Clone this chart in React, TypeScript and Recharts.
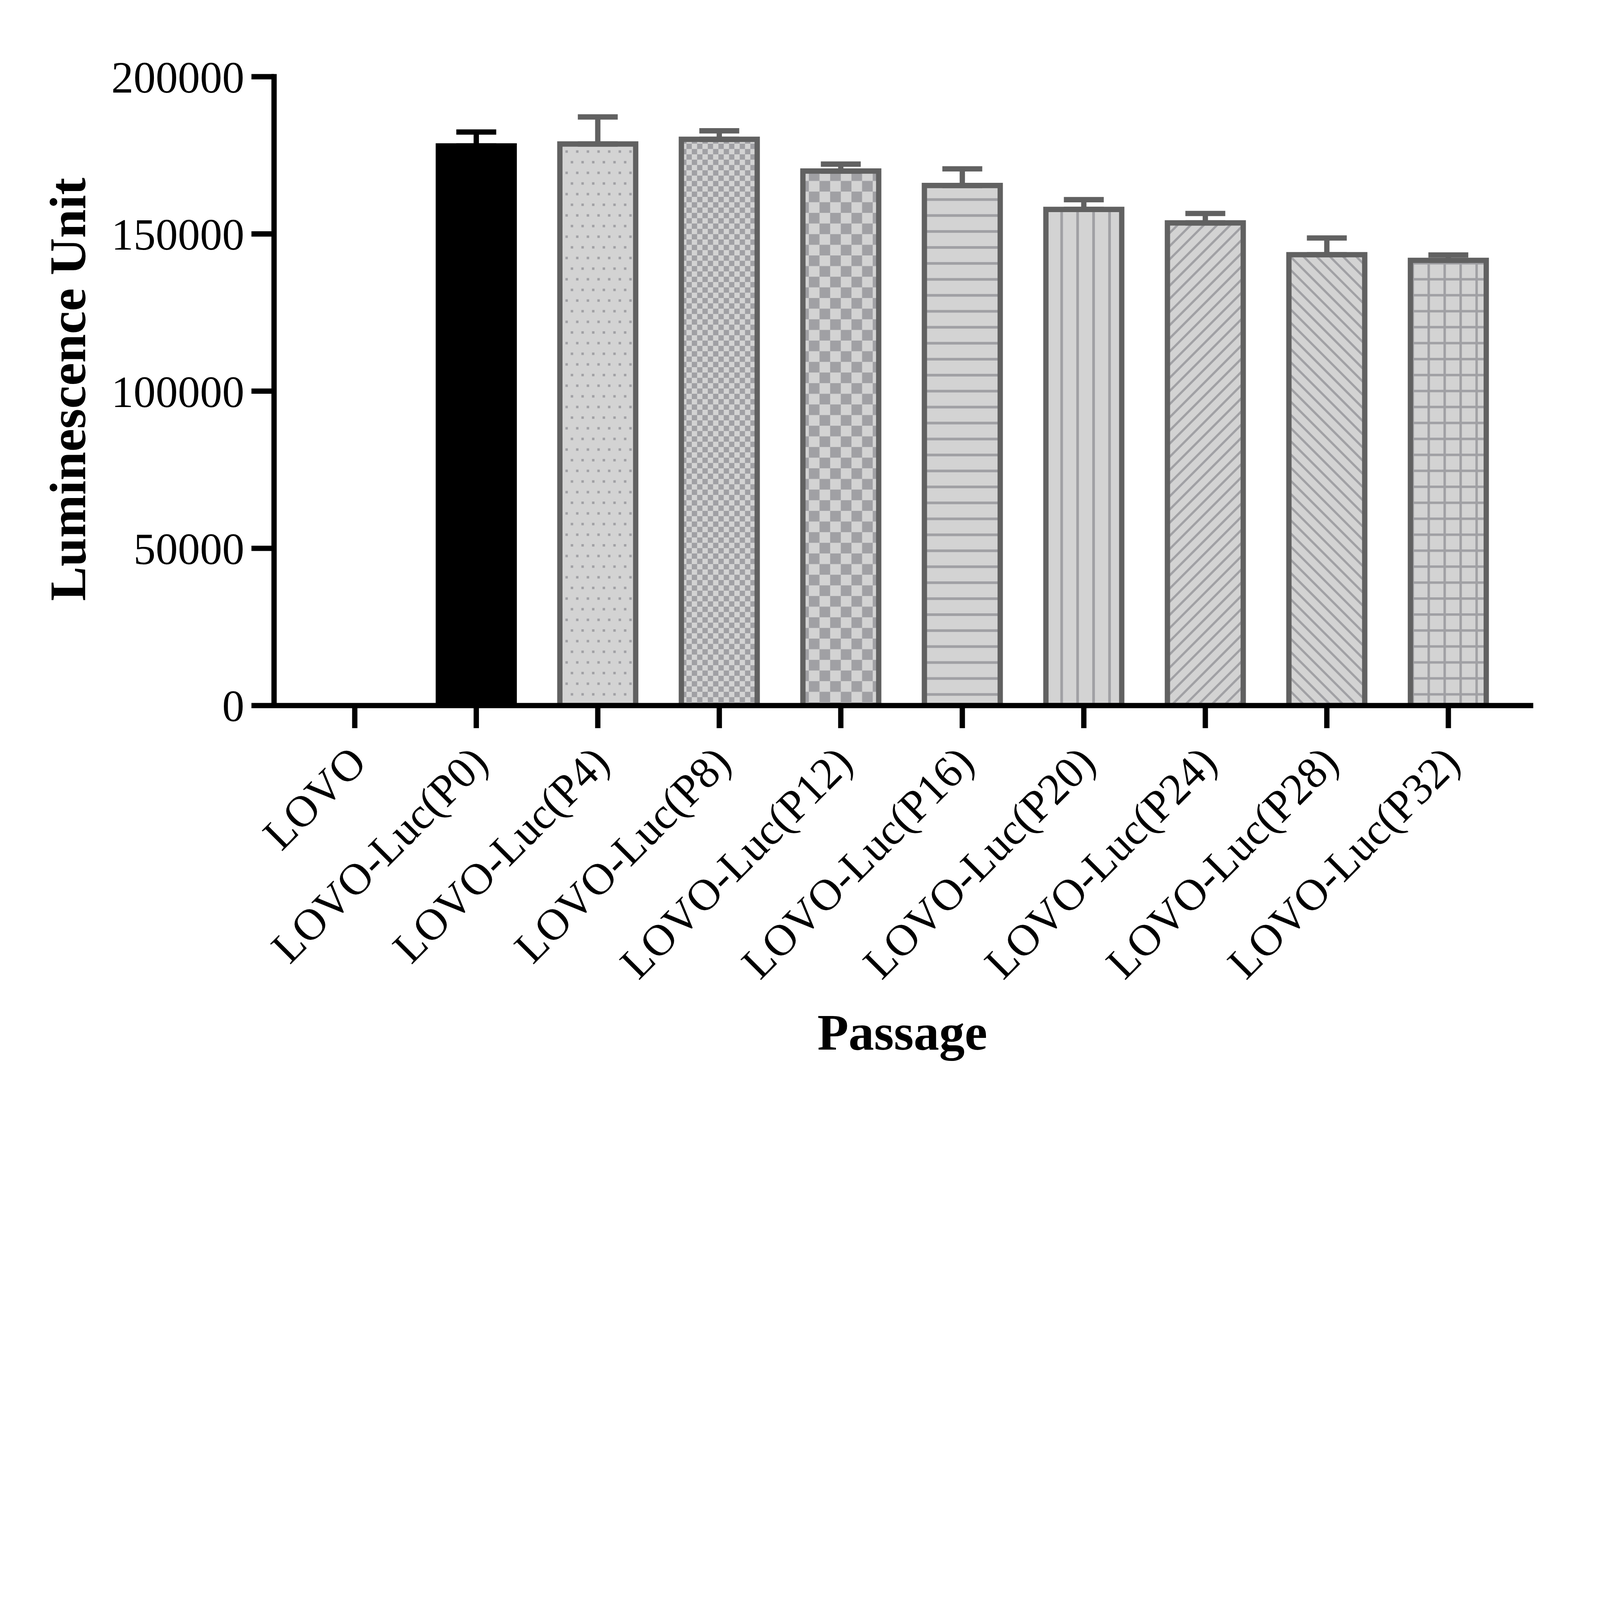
import React from 'react';
import { BarChart, Bar, XAxis, YAxis, Cell, ErrorBar, Label } from 'recharts';

const categories = [
  'LOVO',
  'LOVO-Luc(P0)',
  'LOVO-Luc(P4)',
  'LOVO-Luc(P8)',
  'LOVO-Luc(P12)',
  'LOVO-Luc(P16)',
  'LOVO-Luc(P20)',
  'LOVO-Luc(P24)',
  'LOVO-Luc(P28)',
  'LOVO-Luc(P32)',
];
const meanValues = [0, 178000, 178600, 180100, 170000, 165400, 157800, 153500, 143400, 141600];
const sdValues = [null, 4400, 8600, 2700, 2200, 5300, 3100, 3000, 5300, 1700];
const yTicks = [0, 50000, 100000, 150000, 200000];

const W = 7216;
const H = 4952;
const FONT = '"Liberation Serif", "Times New Roman", serif';
const GRAY = '#616161';
const LIGHT = '#d3d3d3';
const MID = '#a0a0a4';

const barFills = [
  'none',
  '#000000',
  'url(#pDots)',
  'url(#pCheckSmall)',
  'url(#pCheckBig)',
  'url(#pHoriz)',
  'url(#pVert)',
  'url(#pDiagUp)',
  'url(#pDiagDown)',
  'url(#pGrid)',
];
const barStrokes = ['none', '#000000', GRAY, GRAY, GRAY, GRAY, GRAY, GRAY, GRAY, GRAY];

const data = categories.map((name, i) => ({
  name,
  value: meanValues[i],
  errBlack: i === 1 && sdValues[i] != null ? [0, sdValues[i]] : null,
  errGray: i > 1 && sdValues[i] != null ? [0, sdValues[i]] : null,
}));

const XTick = (props: any) => {
  const { x, y, payload } = props;
  return (
    <text
      transform={`translate(${x + 62},${y + 166}) rotate(-45)`}
      textAnchor="end"
      fontFamily={FONT}
      fontSize={200}
      fill="#000"
    >
      {payload.value}
    </text>
  );
};

function getScale() {
  if (typeof window === 'undefined') return 1;
  const vw = window.innerWidth || W;
  const vh = window.innerHeight || H;
  return Math.min(1, vw / W, vh / H);
}

export default function App() {
  const s = getScale();
  if (typeof document !== 'undefined') {
    document.body.style.overflow = 'hidden';
    document.body.style.margin = '0';
  }
  return (
    <div
      style={{
        position: 'absolute',
        left: 0,
        top: 0,
        width: W,
        height: H,
        transform: `scale(${s})`,
        transformOrigin: '0 0',
        background: '#fff',
      }}
    >
      <BarChart
        width={W}
        height={H}
        data={data}
        margin={{ top: 346, right: 313, bottom: 0, left: 0 }}
        barSize={342}
      >
        <defs>
          <pattern id="pDots" patternUnits="userSpaceOnUse" width={48} height={96}>
            <rect x={0} y={0} width={48} height={96} fill={LIGHT} />
            <rect x={6} y={6} width={11} height={11} fill={MID} />
            <rect x={30} y={54} width={11} height={11} fill={MID} />
          </pattern>
          <pattern id="pCheckSmall" patternUnits="userSpaceOnUse" width={48} height={48}>
            <rect x={0} y={0} width={48} height={48} fill={LIGHT} />
            <rect x={0} y={0} width={24} height={24} fill={MID} />
            <rect x={24} y={24} width={24} height={24} fill={MID} />
          </pattern>
          <pattern id="pCheckBig" patternUnits="userSpaceOnUse" width={96} height={96}>
            <rect x={0} y={0} width={96} height={96} fill={LIGHT} />
            <rect x={0} y={0} width={48} height={48} fill={MID} />
            <rect x={48} y={48} width={48} height={48} fill={MID} />
          </pattern>
          <pattern id="pHoriz" patternUnits="userSpaceOnUse" width={72} height={72}>
            <rect x={0} y={0} width={72} height={72} fill={LIGHT} />
            <rect x={0} y={30} width={72} height={12} fill={MID} />
          </pattern>
          <pattern id="pVert" patternUnits="userSpaceOnUse" width={72} height={72}>
            <rect x={0} y={0} width={72} height={72} fill={LIGHT} />
            <rect x={30} y={0} width={12} height={72} fill={MID} />
          </pattern>
          <pattern id="pDiagUp" patternUnits="userSpaceOnUse" width={42} height={42} patternTransform="rotate(45)">
            <rect x={0} y={0} width={42} height={42} fill={LIGHT} />
            <rect x={16} y={0} width={10} height={42} fill={MID} />
          </pattern>
          <pattern id="pDiagDown" patternUnits="userSpaceOnUse" width={42} height={42} patternTransform="rotate(-45)">
            <rect x={0} y={0} width={42} height={42} fill={LIGHT} />
            <rect x={16} y={0} width={10} height={42} fill={MID} />
          </pattern>
          <pattern id="pGrid" patternUnits="userSpaceOnUse" width={72} height={72}>
            <rect x={0} y={0} width={72} height={72} fill={LIGHT} />
            <rect x={30} y={0} width={11} height={72} fill={MID} />
            <rect x={0} y={30} width={72} height={11} fill={MID} />
          </pattern>
        </defs>
        <XAxis
          dataKey="name"
          type="category"
          interval={0}
          height={H - 3182}
          padding={{ left: 90, right: 97 }}
          axisLine={{ stroke: '#000', strokeWidth: 24, strokeLinecap: 'square' }}
          tickLine={{ stroke: '#000', strokeWidth: 24 }}
          tickSize={102}
          tickMargin={0}
          tick={<XTick />}
        >
          <Label
            content={(p: any) => {
              const vb = p.viewBox || {};
              return (
                <text
                  x={vb.x + vb.width / 2}
                  y={vb.y + 1551}
                  textAnchor="middle"
                  fontFamily={FONT}
                  fontWeight={700}
                  fontSize={230}
                  fill="#000"
                >
                  Passage
                </text>
              );
            }}
          />
        </XAxis>
        <YAxis
          type="number"
          domain={[0, 200000]}
          ticks={yTicks}
          interval={0}
          width={1236}
          axisLine={{ stroke: '#000', strokeWidth: 24, strokeLinecap: 'square' }}
          tickLine={{ stroke: '#000', strokeWidth: 24 }}
          tickSize={102}
          tickMargin={32}
          tick={{ fontFamily: FONT, fontSize: 200, fill: '#000' }}
        >
          <Label
            content={(p: any) => {
              const vb = p.viewBox || {};
              const cx = 384;
              const cy = vb.y + vb.height / 2 - 8;
              return (
                <text
                  x={cx}
                  y={cy}
                  transform={`rotate(-90 ${cx} ${cy})`}
                  textAnchor="middle"
                  fontFamily={FONT}
                  fontWeight={700}
                  fontSize={233}
                  fill="#000"
                >
                  Luminescence Unit
                </text>
              );
            }}
          />
        </YAxis>
        <Bar dataKey="value" strokeWidth={24} isAnimationActive={false}>
          {data.map((d, i) => (
            <Cell key={d.name} fill={barFills[i]} stroke={barStrokes[i]} />
          ))}
          <ErrorBar dataKey="errBlack" direction="y" width={90} strokeWidth={24} stroke="#000000" isAnimationActive={false} />
          <ErrorBar dataKey="errGray" direction="y" width={90} strokeWidth={24} stroke={GRAY} isAnimationActive={false} />
        </Bar>
      </BarChart>
    </div>
  );
}
